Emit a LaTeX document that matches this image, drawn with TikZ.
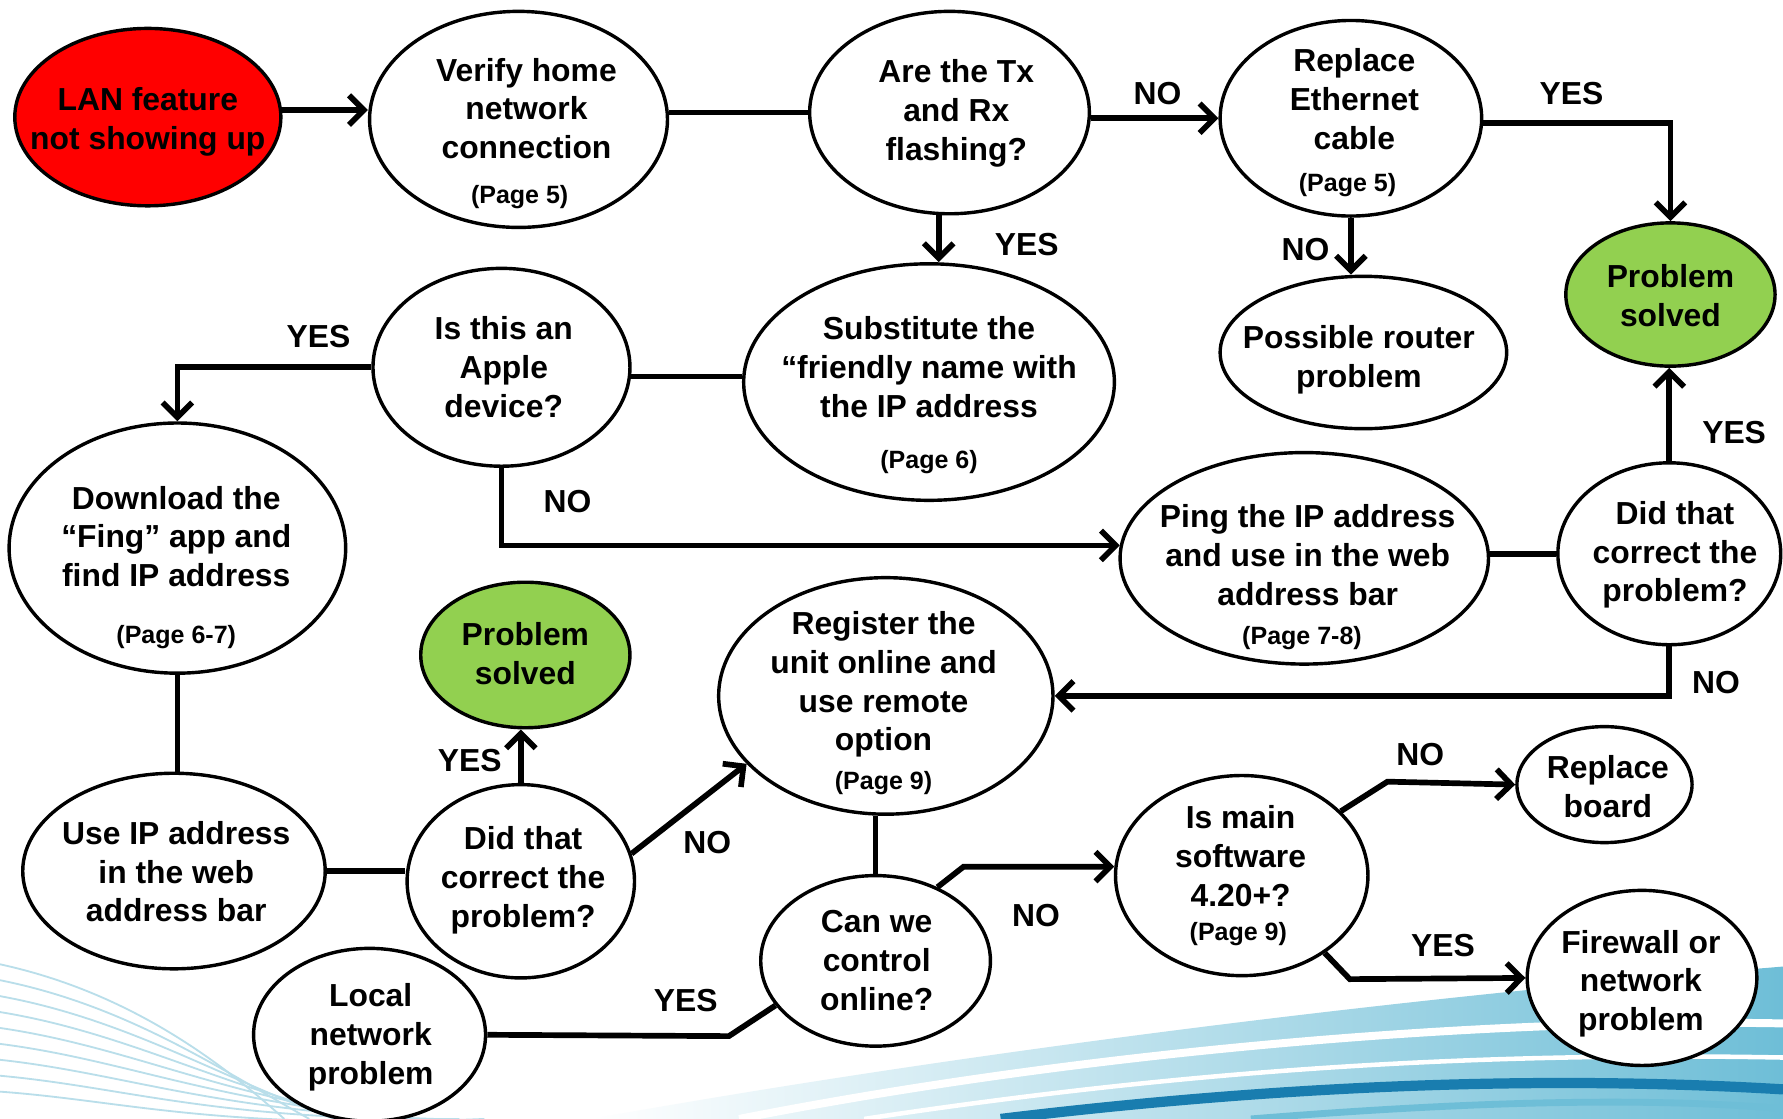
\documentclass[tikz,border=0pt]{standalone}
\usepackage{fontspec}
\setmainfont{Liberation Sans}
\usetikzlibrary{shapes.geometric,arrows.meta}
\definecolor{lanred}{RGB}{255,0,0}
\definecolor{solvedgreen}{RGB}{146,208,80}
\definecolor{wavelight}{RGB}{185,222,234}
\definecolor{wavemid}{RGB}{110,190,215}
\definecolor{wavedark}{RGB}{25,125,175}
\newcommand\strutted[1]{\strut#1\strut}
\begin{document}
\begin{tikzpicture}[x=1pt,y=-1pt,
  box/.style={ellipse, draw=black, line width=3pt, fill=white, inner sep=0pt},
  txt/.style={align=center, font=\fontsize{28}{34}\selectfont\bfseries, inner sep=0pt},
  pg/.style={font=\fontsize{22}{26}\selectfont\bfseries, inner sep=0pt},
  lbl/.style={font=\fontsize{28}{34}\selectfont\bfseries, inner sep=0pt},
  conn/.style={line width=5pt, line join=miter},
  arr/.style={conn, -{Straight Barb[length=13pt,width=26pt]}},
]
\useasboundingbox (0,0) rectangle (1568,984);
\fill[white] (0,0) rectangle (1568,984);

% background waves
\foreach \i in {0,...,8} {
  \draw[wavelight, line width=1.6pt] (0,{848+14*\i}) .. controls (110,{872+12*\i}) and (190,{930+8*\i}) .. ({250+22*\i},984);
}
\shade[left color=white, right color=wavemid] (520,984) .. controls (820,930) and (1200,880) .. (1568,850) -- (1568,984) -- cycle;
\draw[white, line width=7pt] (650,984) .. controls (950,925) and (1300,895) .. (1568,900);
\draw[white, line width=4pt] (760,984) .. controls (1050,940) and (1300,925) .. (1568,930);
\draw[wavedark, line width=9pt] (880,984) .. controls (1120,955) and (1350,945) .. (1568,958);
\draw[wavemid, line width=6pt] (1100,984) .. controls (1300,968) and (1450,965) .. (1568,975);

% ellipses
\node[box, fill=lanred, minimum width=234pt, minimum height=156pt] (lan) at (130,103) {};
\node[box, minimum width=262pt, minimum height=190pt] (verify) at (456,105) {};
\node[box, minimum width=246pt, minimum height=178pt] (are) at (835,99) {};
\node[box, minimum width=230pt, minimum height=172pt] (replace) at (1188,104) {};
\node[box, fill=solvedgreen, minimum width=184pt, minimum height=126pt] (ps1) at (1469,259) {};
\node[box, minimum width=252pt, minimum height=134pt] (router) at (1199,310) {};
\node[box, minimum width=326pt, minimum height=208pt] (subst) at (817,336) {};
\node[box, minimum width=226pt, minimum height=174pt] (apple) at (441,323) {};
\node[box, minimum width=296pt, minimum height=220pt] (download) at (156,482) {};
\node[box, minimum width=324pt, minimum height=186pt] (ping) at (1147,491) {};
\node[box, minimum width=196pt, minimum height=160pt] (didr) at (1468,487) {};
\node[box, fill=solvedgreen, minimum width=184pt, minimum height=128pt] (psm) at (462,576) {};
\node[box, minimum width=294pt, minimum height=208pt] (reg) at (779,612) {};
\node[box, minimum width=266pt, minimum height=172pt] (useip) at (153,766) {};
\node[box, minimum width=200pt, minimum height=170pt] (didl) at (458,775) {};
\node[box, minimum width=154pt, minimum height=102pt] (rboard) at (1411,690) {};
\node[box, minimum width=222pt, minimum height=176pt] (ismain) at (1092,770) {};
\node[box, minimum width=202pt, minimum height=150pt] (can) at (770,845) {};
\node[box, minimum width=202pt, minimum height=154pt] (fire) at (1444,860) {};
\node[box, minimum width=204pt, minimum height=152pt] (local) at (325,910) {};

% texts
\node[txt] (tlan) at (130,107.5) {\strutted{LAN feature\\not showing up}};
\node[txt] (tverify) at (463,98.5) {\strutted{Verify home\\network\\connection}};
\node[pg] (pverify) at (457,174) {\strut(Page 5)};
\node[txt] (tare) at (841,100) {\strutted{Are the Tx\\and Rx\\flashing?}};
\node[txt] (treplace) at (1191,90.5) {\strutted{Replace\\Ethernet\\cable}};
\node[pg] (preplace) at (1185,163) {\strut(Page 5)};
\node[txt] (tps1) at (1469,263) {\strutted{Problem\\solved}};
\node[txt] (trouter) at (1195,317) {\strutted{Possible router\\problem}};
\node[txt] (tsubst) at (817,326) {\strutted{Substitute the\\“friendly name with\\the IP address}};
\node[pg] (psubst) at (817,407) {\strut(Page 6)};
\node[txt] (tapple) at (443,326) {\strutted{Is this an\\Apple\\device?}};
\node[txt] (tdownload) at (155,475) {\strutted{Download the\\“Fing” app and\\find IP address}};
\node[pg] (pdownload) at (155,561) {\strut(Page 6-7)};
\node[txt] (tping) at (1150,491.5) {\strutted{Ping the IP address\\and use in the web\\address bar}};
\node[pg] (pping) at (1145,562) {\strut(Page 7-8)};
\node[txt] (tdidr) at (1473,488.5) {\strutted{Did that\\correct the\\problem?}};
\node[txt] (tpsm) at (462,578) {\strutted{Problem\\solved}};
\node[txt] (treg) at (777,602.5) {\strutted{Register the\\unit online and\\use remote\\option}};
\node[pg] (preg) at (777,689) {\strut(Page 9)};
\node[txt] (tuseip) at (155,770) {\strutted{Use IP address\\in the web\\address bar}};
\node[txt] (tdidl) at (460,774.5) {\strutted{Did that\\correct the\\problem?}};
\node[txt] (trboard) at (1414,695) {\strutted{Replace\\board}};
\node[txt] (tismain) at (1091,756) {\strutted{Is main\\software\\4.20+?}};
\node[pg] (pismain) at (1089,822) {\strut(Page 9)};
\node[txt] (tcan) at (771,847.5) {\strutted{Can we\\control\\online?}};
\node[txt] (tfire) at (1443,865.5) {\strutted{Firewall or\\network\\problem}};
\node[txt] (tlocal) at (326,912.5) {\strutted{Local\\network\\problem}};

% connectors
\draw[arr] (lan.3) -- (lan.3 -| verify.west);
\draw[conn] (are.west -| verify.east) -- (are.west);
\draw[arr] (are.east |- replace.west) -- (replace.west);
\draw[arr] (replace.-2) -- (replace.-2 -| ps1.north) -- (ps1.north);
\draw[arr] (replace.south) -- (replace.south |- router.north);
\draw[arr] (are.-96) -- (are.-96 |- subst.north);
\draw[conn] (apple.-4) -- (apple.-4 -| subst.west);
\draw[arr] (apple.west) -- (apple.west -| download.north) -- (download.north);
\draw[arr] (apple.south) -- (apple.south |- ping.176) -- (ping.176);
\draw[conn] (ping.east |- didr.west) -- (didr.west);
\draw[arr] (didr.north) -- (didr.north |- ps1.south);
\draw[arr] (didr.south) -- (didr.south |- reg.east) -- (reg.east);
\draw[conn] (download.south) -- (download.south |- useip.north);
\draw[conn] (useip.east) -- (useip.east -| didl.west);
\draw[arr] (didl.north) -- (didl.north |- psm.south);
\draw[arr] (didl.14) -- (reg.206);
\draw[conn] (can.north |- reg.south) -- (can.north);
\draw[arr] (can.50) -- ++(23,-18) -- (ismain.176);
\draw[conn] (can.204) -- ++(-41,27) -- (local.east);
\draw[arr] (ismain.33) -- ++(41,-26) -- (rboard.west);
\draw[arr] (ismain.-43) -- ++(22,23) -- (fire.west);

% labels
\node[lbl] (l1) at (1018,85) {\strut NO};
\node[lbl] (l2) at (1382,85) {\strut YES};
\node[lbl] (l3) at (1148,222) {\strut NO};
\node[lbl] (l4) at (903,218) {\strut YES};
\node[lbl] (l5) at (280,299) {\strut YES};
\node[lbl] (l6) at (499,444) {\strut NO};
\node[lbl] (l7) at (1525,383) {\strut YES};
\node[lbl] (l8) at (1509,603) {\strut NO};
\node[lbl] (l9) at (413,672) {\strut YES};
\node[lbl] (l10) at (622,744) {\strut NO};
\node[lbl] (l11) at (911,808) {\strut NO};
\node[lbl] (l12) at (603,883) {\strut YES};
\node[lbl] (l13) at (1249,666) {\strut NO};
\node[lbl] (l14) at (1269,834) {\strut YES};
\end{tikzpicture}
\end{document}
